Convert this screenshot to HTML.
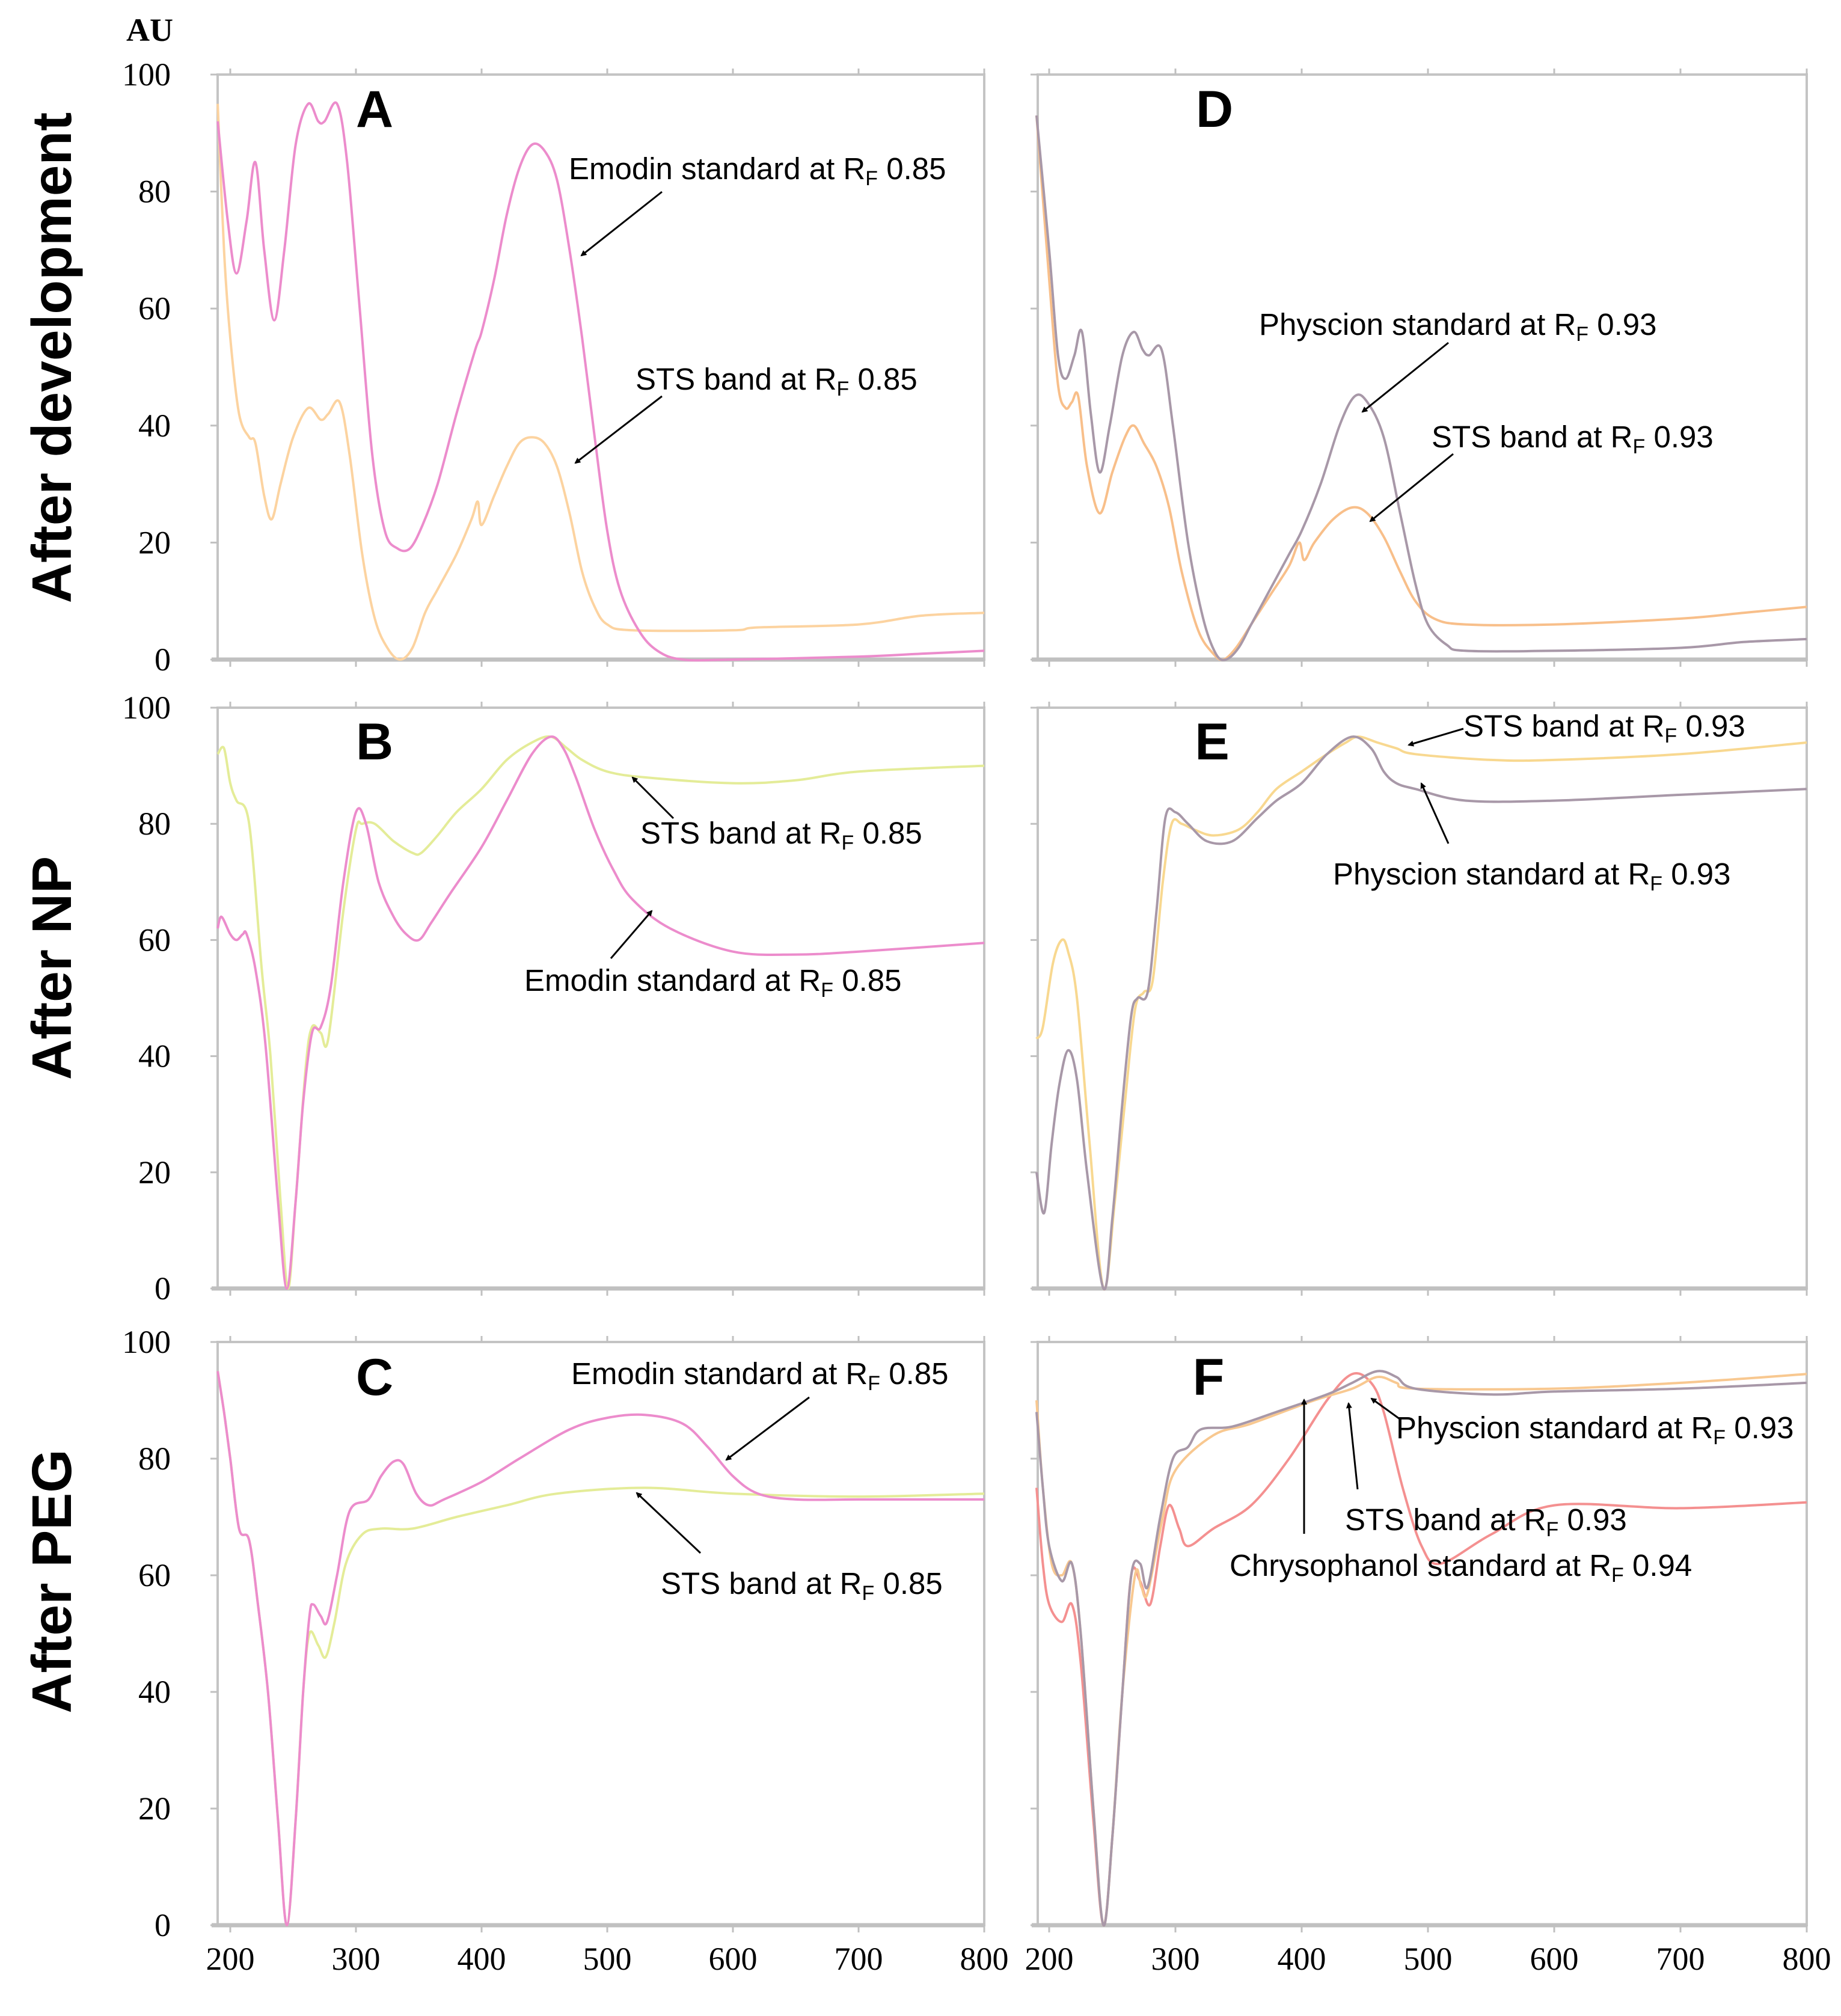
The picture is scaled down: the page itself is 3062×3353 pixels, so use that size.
<!DOCTYPE html>
<html><head><meta charset="utf-8"><style>
html,body{margin:0;padding:0;background:#fff;}
svg{display:block;}
.tk{font-family:"Liberation Serif",serif;font-size:54px;fill:#000;}
.ann{font-family:"Liberation Sans",sans-serif;font-size:51px;fill:#000;}
.let{font-family:"Liberation Sans",sans-serif;font-size:86px;font-weight:bold;fill:#000;}
.row{font-family:"Liberation Sans",sans-serif;font-size:93px;font-weight:bold;fill:#000;}
</style></head><body>
<svg id="fig" width="3062" height="3353" viewBox="0 0 3062 3353" xmlns="http://www.w3.org/2000/svg">
<defs><marker id="ah" markerWidth="10" markerHeight="10" refX="8" refY="5" orient="auto" markerUnits="userSpaceOnUse" viewBox="0 0 10 10"><path d="M0,0 L10,5 L0,10 z" fill="#000"/></marker></defs>
<text class="tk" x="249" y="68" font-size="62" font-weight="bold" text-anchor="middle">AU</text>
<text class="row" transform="translate(118,595) rotate(-90)" text-anchor="middle">After development</text>
<text class="row" transform="translate(118,1610) rotate(-90)" text-anchor="middle">After NP</text>
<text class="row" transform="translate(118,2630) rotate(-90)" text-anchor="middle">After PEG</text>
<g id="plots"></g>
</svg>
<script>
const xTicks = [200,300,400,500,600,700,800];
const yTicks = [0,20,40,60,80,100];
const aEmodin = [[190,92],[198,75],[205,66],[213,75],[220,85],[227,70],[235,58],[243,70],[252,88],[262,95],[270,92],[275,92],[285,95],[293,85],[303,60],[313,35],[323,22],[333,19],[343,19],[353,23],[365,30],[380,42],[395,53],[400,56],[410,65],[420,76],[430,84],[440,88],[450,87],[460,82],[470,70],[480,55],[490,38],[500,22],[510,12],[525,5],[540,1.5],[560,0],[600,0],[700,0.5],[750,1],[800,1.5]];
const aSts = [[190,95],[195,70],[200,55],[207,42],[215,38],[220,37],[227,28],[233,24],[240,30],[250,38],[262,43],[272,41],[278,42],[287,44],[295,35],[305,18],[315,7],[325,2],[335,0],[345,2],[355,8],[365,12],[380,18],[392,24],[397,27],[400,23],[410,28],[420,33],[430,37],[440,38],[450,37],[460,33],[470,25],[480,15],[490,9],[500,6],[520,5],[600,5],[620,5.5],[700,6],[750,7.5],[800,8]];
const dPhyscion = [[190,93],[200,70],[207,52],[213,48],[220,52],[226,56],[233,42],[240,32],[248,40],[258,52],[267,56],[274,53],[279,52],[289,53],[298,40],[310,20],[322,7],[332,1],[340,0],[350,2],[360,6],[375,12],[390,18],[400,22],[415,30],[430,40],[442,45],[452,44],[465,38],[478,25],[490,13],[500,6],[515,2.5],[530,1.5],[600,1.5],[700,2],[750,3],[800,3.5]];
const dSts = [[190,93],[200,65],[207,47],[213,43],[218,44],[223,45],[230,33],[240,25],[250,32],[260,38],[267,40],[275,37],[285,33],[295,26],[305,15],[318,5],[330,1],[338,0],[348,2],[360,6],[375,11],[390,16],[398,20],[402,17],[410,20],[425,24],[440,26],[452,25],[465,21],[478,15],[490,10],[505,7],[530,6],[600,6],[700,7],[750,8],[800,9]];
const bSts = [[190,92],[195,93],[200,87],[205,84],[215,80],[225,55],[232,40],[240,15],[246,0],[252,15],[260,38],[265,45],[272,44],[278,43],[290,65],[300,79],[305,80],[315,80],[330,77],[345,75],[352,75],[365,78],[380,82],[400,86],[420,91],[440,94],[455,95],[468,93],[480,91],[500,89],[530,88],[600,87],[650,87.5],[700,89],[800,90]];
const bEmodin = [[190,62],[193,64],[200,61],[205,60],[210,61],[213,61],[220,55],[228,42],[238,15],[245,0],[252,15],[258,32],[265,44],[272,45],[280,52],[290,70],[300,82],[308,80],[318,70],[330,64],[340,61],[350,60],[360,63],[375,68],[400,76],[420,84],[440,92],[455,95],[465,93],[475,88],[490,79],[505,72],[520,67],[550,62],[600,58],[650,57.5],[700,58],[800,59.5]];
const eSts = [[190,43],[195,45],[203,56],[210,60],[215,58],[222,50],[232,25],[243,0],[252,15],[260,32],[268,48],[275,51],[282,53],[290,70],[297,80],[305,80],[315,79],[330,78],[350,79],[365,82],[380,86],[400,89],[420,92],[435,94],[445,95],[460,94],[475,93],[490,92],[550,91],[600,91],[700,92],[800,94]];
const ePhyscion = [[190,20],[196,13],[202,25],[208,35],[215,41],[222,36],[230,20],[243,0],[250,12],[258,32],[265,47],[270,50],[278,51],[285,65],[292,81],[300,82],[310,80],[325,77],[345,77],[365,81],[380,84],[400,87],[420,92],[440,95],[455,93],[465,89],[475,87],[490,86],[530,84],[600,84],[700,85],[800,86]];
const cEmodin = [[190,95],[195,88],[200,80],[207,68],[215,66],[222,55],[230,40],[238,18],[245,0],[252,18],[258,40],[263,53],[266,55],[272,53],[277,52],[285,60],[295,71],[310,73],[320,77],[330,79.5],[338,79],[348,74],[358,72],[370,73],[400,76],[430,80],[470,85],[500,87],[530,87.5],[560,86],[580,82],[600,77],[620,74],[650,73],[700,73],[800,73]];
const cSts = [[190,95],[195,88],[200,80],[207,68],[215,66],[222,55],[230,40],[238,18],[245,0],[252,18],[258,40],[263,50],[270,48],[276,46],[283,52],[292,62],[305,67],[320,68],[345,68],[380,70],[420,72],[460,74],[530,75],[600,74],[700,73.5],[800,74]];
const fPhyscion = [[190,88],[195,75],[200,65],[210,59],[218,62],[225,50],[235,20],[243,0],[250,15],[258,40],[265,60],[272,62],[278,58],[288,70],[298,80],[310,82],[320,85],[345,85.5],[380,88],[420,91],[440,93],[460,95],[475,94],[490,92],[550,91],[600,91.5],[700,92],[800,93]];
const fSts = [[190,90],[195,75],[202,62],[210,60],[218,62],[225,50],[235,20],[243,0],[250,15],[258,40],[268,60],[273,58],[278,57],[290,70],[300,78],[330,84],[360,86],[410,90],[440,92],[460,94],[475,93],[490,92],[600,92],[700,93],[800,94.5]];
const fChrys = [[190,75],[195,62],[200,55],[210,52],[218,55],[225,45],[235,18],[243,0],[250,15],[258,40],[265,60],[272,59],[280,55],[288,65],[295,72],[303,68],[310,65],[330,68],[360,72],[390,80],[420,90],[440,94.5],[455,93],[465,88],[480,75],[495,65],[510,62],[550,67],[600,72],[700,71.5],[800,72.5]];

const NS='http://www.w3.org/2000/svg';
const root=document.getElementById('plots');
const panels=[
 {id:'a',x0:383,left:362,right:1637,top:124,bot:1097,labels:true,letter:'A',lx:623,ly:211,series:[[aSts,'#fcd3a0','sts-band'],[aEmodin,'#ec8ccc','emodin-standard']]},
 {id:'d',x0:1745,left:1726,right:3005,top:124,bot:1097,labels:false,letter:'D',lx:2020,ly:211,series:[[dSts,'#f8bf8a','sts-band'],[dPhyscion,'#a898a8','physcion-standard']]},
 {id:'b',x0:383,left:362,right:1637,top:1177,bot:2143,labels:true,letter:'B',lx:623,ly:1263,series:[[bSts,'#e4ec98','sts-band'],[bEmodin,'#ec8ccc','emodin-standard']]},
 {id:'e',x0:1745,left:1726,right:3005,top:1177,bot:2143,labels:false,letter:'E',lx:2016,ly:1263,series:[[eSts,'#f8d890','sts-band'],[ePhyscion,'#a898a8','physcion-standard']]},
 {id:'c',x0:383,left:362,right:1637,top:2232,bot:3202,labels:true,letter:'C',lx:623,ly:2320,series:[[cSts,'#e4ec98','sts-band'],[cEmodin,'#ec8ccc','emodin-standard']]},
 {id:'f',x0:1745,left:1726,right:3005,top:2232,bot:3202,labels:false,letter:'F',lx:2010,ly:2320,series:[[fChrys,'#f49090','chrysophanol-standard'],[fSts,'#f8c890','sts-band'],[fPhyscion,'#a898a8','physcion-standard']]}
];
function mk(tag,attrs,parent){const e=document.createElementNS(NS,tag);for(const k in attrs)e.setAttribute(k,attrs[k]);(parent||root).appendChild(e);return e;}
function smooth(pts){
 let d='M'+pts[0][0].toFixed(1)+','+pts[0][1].toFixed(1);
 for(let i=0;i<pts.length-1;i++){
  const p0=pts[i-1]||pts[i],p1=pts[i],p2=pts[i+1],p3=pts[i+2]||p2;
  const c1=[p1[0]+(p2[0]-p0[0])/6,p1[1]+(p2[1]-p0[1])/6];
  const c2=[p2[0]-(p3[0]-p1[0])/6,p2[1]-(p3[1]-p1[1])/6];
  d+=' C'+c1[0].toFixed(1)+','+c1[1].toFixed(1)+' '+c2[0].toFixed(1)+','+c2[1].toFixed(1)+' '+p2[0].toFixed(1)+','+p2[1].toFixed(1);
 }
 return d;
}
panels.forEach(p=>{
 const g=mk('g',{});
 
 
 const xs=v=>p.x0+(v-200)*(p.right-p.x0)/600;
 const ys=v=>p.bot-(v/100)*(p.bot-p.top);
 const fr=mk('rect',{x:p.left,y:p.top,width:p.right-p.left,height:p.bot-p.top,fill:'none',stroke:'#c4c4c4','stroke-width':4},g);
 
 
 const bl=mk('line',{x1:p.left-10,x2:p.right,y1:p.bot,y2:p.bot,stroke:'#c0c0c0','stroke-width':7},g);
 
 
 xTicks.forEach(t=>{
  const l=mk('line',{x1:xs(t),x2:xs(t),y1:p.bot,y2:p.bot+12,stroke:'#c0c0c0','stroke-width':3},g);
  
  
  const l2=mk('line',{x1:xs(t),x2:xs(t),y1:p.top,y2:p.top-10,stroke:'#c0c0c0','stroke-width':3},g);
  
  
  if(p.id==='c'||p.id==='f'){
   const tx=mk('text',{class:'tk',x:xs(t),y:3276,'text-anchor':'middle'},g);
   tx.textContent=t;
   
   
  }
 });
 yTicks.forEach(t=>{
  const l=mk('line',{x1:p.left-12,x2:p.left,y1:ys(t),y2:ys(t),stroke:'#c0c0c0','stroke-width':3},g);
  
  
  if(p.labels){
   const tx=mk('text',{class:'tk',x:284,y:ys(t)+18,'text-anchor':'end'},g);
   tx.textContent=t;
   
   
  }
 });
 p.series.forEach(s=>{
  const d=smooth(s[0].map(pt=>[xs(pt[0]),ys(pt[1])]));
  const path=mk('path',{d:d,fill:'none',stroke:s[1],'stroke-width':4,'stroke-linejoin':'round'},g);
  
  
 });
 const lt=mk('text',{class:'let',x:p.lx,y:p.ly,'text-anchor':'middle'},g);
 lt.textContent=p.letter;
 
 
});
const anns=[
 ['Emodin standard at R','0.85',946,298,1101,319,967,425,'annotation-a-emodin'],
 ['STS band at R','0.85',1057,648,1101,659,957,770,'annotation-a-sts'],
 ['Physcion standard at R','0.93',2094,557,2409,570,2266,685,'annotation-d-physcion'],
 ['STS band at R','0.93',2381,744,2417,755,2279,867,'annotation-d-sts'],
 ['STS band at R','0.85',1065,1403,1120,1361,1052,1293,'annotation-b-sts'],
 ['Emodin standard at R','0.85',872,1648,1016,1594,1084,1515,'annotation-b-emodin'],
 ['STS band at R','0.93',2434,1225,2434,1212,2343,1239,'annotation-e-sts'],
 ['Physcion standard at R','0.93',2217,1471,2409,1403,2364,1303,'annotation-e-physcion'],
 ['Emodin standard at R','0.85',950,2302,1346,2324,1208,2428,'annotation-c-emodin'],
 ['STS band at R','0.85',1099,2651,1165,2583,1059,2483,'annotation-c-sts'],
 ['Physcion standard at R','0.93',2322,2392,2328,2360,2281,2326,'annotation-f-physcion'],
 ['STS band at R','0.93',2237,2545,2258,2477,2243,2334,'annotation-f-sts'],
 ['Chrysophanol standard at R','0.94',2045,2621,2169,2551,2169,2328,'annotation-f-chrysophanol']
];
anns.forEach(a=>{
 const t=mk('text',{class:'ann',x:a[2],y:a[3]});
 
 
 t.appendChild(document.createTextNode(a[0]));
 const sub=mk('tspan',{'font-size':'34','dy':'10'},t);sub.textContent='F';
 const rest=mk('tspan',{'dy':'-10'},t);rest.textContent=' '+a[1];
 const l=mk('line',{x1:a[4],y1:a[5],x2:a[6],y2:a[7],stroke:'#000','stroke-width':3,'marker-end':'url(#ah)'});
 
 
});
</script>
</body></html>
